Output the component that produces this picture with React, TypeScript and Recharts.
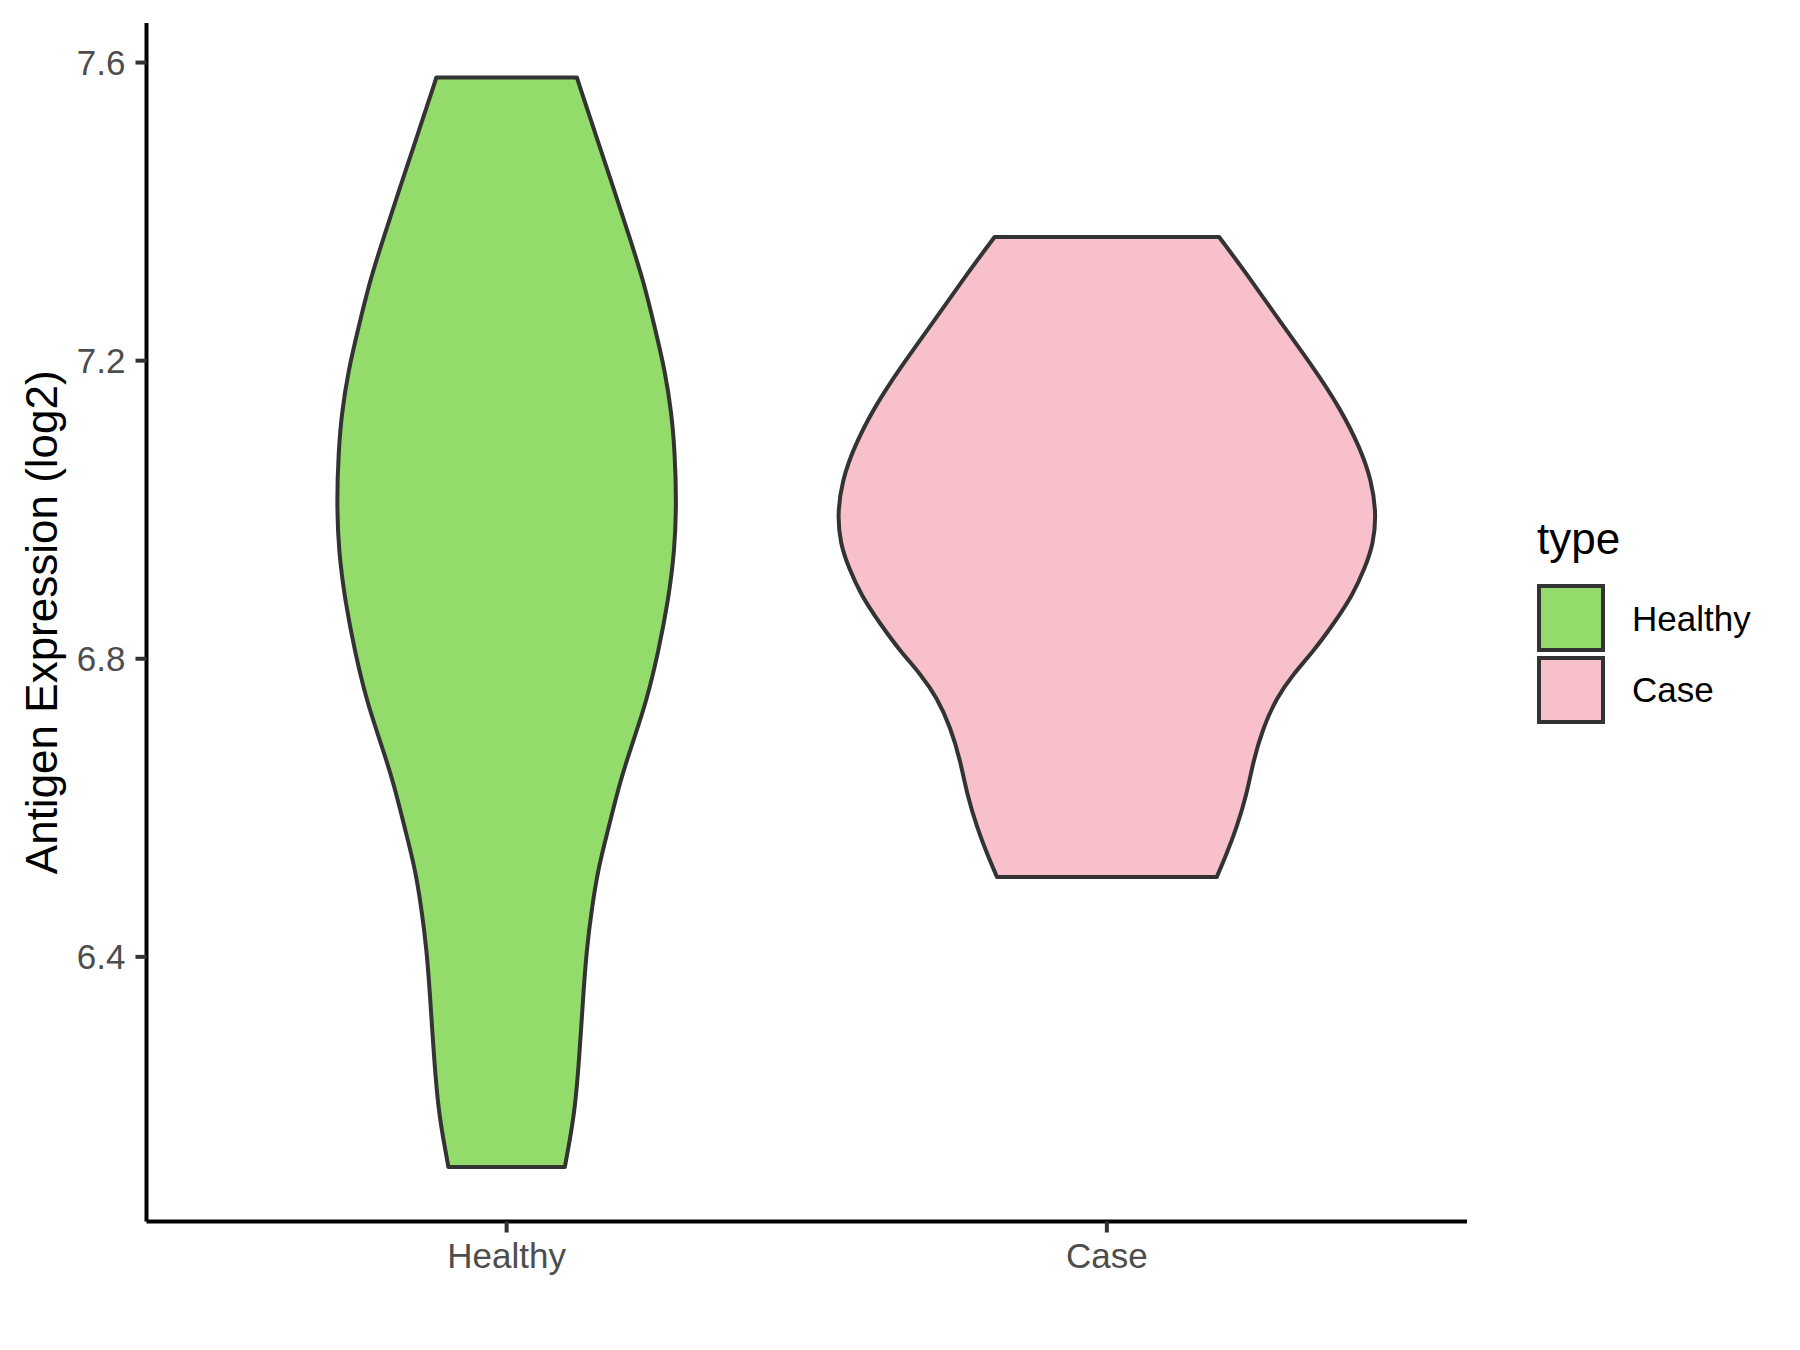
import React from 'react';
import { ComposedChart, Area, XAxis, YAxis, ReferenceLine, Label } from 'recharts';

// ---- data ----
const groups = ['Healthy', 'Case'];
const yTicks = [6.4, 6.8, 7.2, 7.6];

// violin outline: expression level and half-width (in x-category units)
const healthyLevels = [7.58, 7.499, 7.432, 7.365, 7.307, 7.244, 7.186, 7.128, 7.079, 7.012, 6.945, 6.877, 6.81, 6.743, 6.69, 6.636, 6.564, 6.52, 6.466, 6.408, 6.341, 6.264, 6.197, 6.153, 6.118];
const healthyHalfWidth = [0.117, 0.15, 0.178, 0.205, 0.228, 0.247, 0.264, 0.275, 0.28, 0.283, 0.28, 0.269, 0.253, 0.233, 0.211, 0.189, 0.167, 0.153, 0.142, 0.133, 0.127, 0.121, 0.114, 0.105, 0.097];

const caseLevels = [7.366, 7.311, 7.253, 7.191, 7.137, 7.083, 7.039, 6.994, 6.954, 6.922, 6.886, 6.846, 6.81, 6.779, 6.748, 6.707, 6.663, 6.618, 6.573, 6.537, 6.507];
const caseHalfWidth = [0.187, 0.238, 0.288, 0.344, 0.388, 0.422, 0.441, 0.449, 0.444, 0.43, 0.41, 0.377, 0.344, 0.31, 0.283, 0.26, 0.244, 0.233, 0.216, 0.199, 0.183];

// ---- styles ----
const FILL: Record<string, string> = { Healthy: '#93DB6B', Case: '#F7C0CB' };
const OUTLINE = '#333333';
const FONT = '"Liberation Sans", Arial, Helvetica, sans-serif';
const LW = 4;

const violins = [
  { name: groups[0], key: 'healthy', center: 1, levels: healthyLevels, half: healthyHalfWidth },
  { name: groups[1], key: 'case', center: 2, levels: caseLevels, half: caseHalfWidth },
];

const rows: any[] = [];
violins.forEach((v) =>
  v.levels.forEach((lvl, i) => {
    const row: any = { y: lvl };
    violins.forEach((o) => {
      row[o.key] = [null, null];
    });
    row[v.key] = [v.center - v.half[i], v.center + v.half[i]];
    rows.push(row);
  })
);
rows.sort((a, b) => b.y - a.y);

const allLevels = [...healthyLevels, ...caseLevels];
const lo = Math.min(...allLevels);
const hi = Math.max(...allLevels);
const pad = (hi - lo) * 0.05;
const yDomain = [lo - pad, hi + pad];

const YTitle = (props: any) => {
  const vb = props.viewBox || { x: 46.5, y: 23, width: 100, height: 1198.5 };
  const cx = vb.x + 10.5;
  const cy = vb.y + vb.height / 2;
  return (
    <text
      x={cx}
      y={cy}
      transform={`rotate(-90, ${cx}, ${cy})`}
      textAnchor="middle"
      fontSize={44}
      fontFamily={FONT}
      fill="#000000"
    >
      Antigen Expression (log2)
    </text>
  );
};

const LegendBox = () => (
  <div style={{ position: 'absolute', left: 1520, top: 500, width: 280, height: 240 }}>
    <svg width={280} height={240}>
      <text x={17} y={54} fontSize={44} fontFamily={FONT} fill="#000000">
        type
      </text>
      {groups.map((g, i) => (
        <g key={g}>
          <rect x={19} y={86 + i * 72} width={64} height={64} fill={FILL[g]} stroke={OUTLINE} strokeWidth={4} />
          <text x={112} y={131 + i * 71} fontSize={35} fontFamily={FONT} fill="#000000">
            {g}
          </text>
        </g>
      ))}
    </svg>
  </div>
);

export default function App() {
  return (
    <div style={{ position: 'absolute', left: 0, top: 0, width: 1800, height: 1350, background: '#ffffff' }}>
      <ComposedChart
        width={1800}
        height={1350}
        layout="vertical"
        data={rows}
        margin={{ top: 23, right: 333, bottom: 68.5, left: 46.5 }}
      >
        <XAxis
          type="number"
          domain={[0.4, 2.6]}
          allowDataOverflow
          ticks={[1, 2]}
          tickFormatter={(v: number) => groups[Math.round(v) - 1]}
          height={60}
          tickSize={11}
          tickMargin={10.5}
          axisLine={{ stroke: '#000000', strokeWidth: 4 }}
          tickLine={{ stroke: OUTLINE, strokeWidth: 4 }}
          tick={{ fill: '#4D4D4D', fontSize: 35, fontFamily: FONT }}
        />
        <YAxis
          type="number"
          dataKey="y"
          domain={yDomain}
          allowDataOverflow
          reversed
          ticks={yTicks}
          tickFormatter={(v: number) => v.toFixed(1)}
          width={100}
          tickSize={11}
          tickMargin={10}
          axisLine={{ stroke: '#000000', strokeWidth: 4 }}
          tickLine={{ stroke: OUTLINE, strokeWidth: 4 }}
          tick={{ fill: '#4D4D4D', fontSize: 35, fontFamily: FONT }}
        >
          <Label content={YTitle} />
        </YAxis>
        {violins.map((v) => (
          <Area
            key={v.key}
            dataKey={v.key}
            name={v.name}
            type="basis"
            connectNulls
            fill={FILL[v.name]}
            fillOpacity={1}
            stroke={OUTLINE}
            strokeWidth={LW}
            isAnimationActive={false}
            dot={false}
            activeDot={false}
          />
        ))}
        {violins.map((v) => {
          const n = v.levels.length;
          return [
            <ReferenceLine
              key={v.key + '-top'}
              segment={[
                { x: v.center - v.half[0], y: v.levels[0] },
                { x: v.center + v.half[0], y: v.levels[0] },
              ]}
              stroke={OUTLINE}
              strokeWidth={LW}
              strokeLinecap="round"
            />,
            <ReferenceLine
              key={v.key + '-bottom'}
              segment={[
                { x: v.center - v.half[n - 1], y: v.levels[n - 1] },
                { x: v.center + v.half[n - 1], y: v.levels[n - 1] },
              ]}
              stroke={OUTLINE}
              strokeWidth={LW}
              strokeLinecap="round"
            />,
          ];
        })}
      </ComposedChart>
      <LegendBox />
    </div>
  );
}
